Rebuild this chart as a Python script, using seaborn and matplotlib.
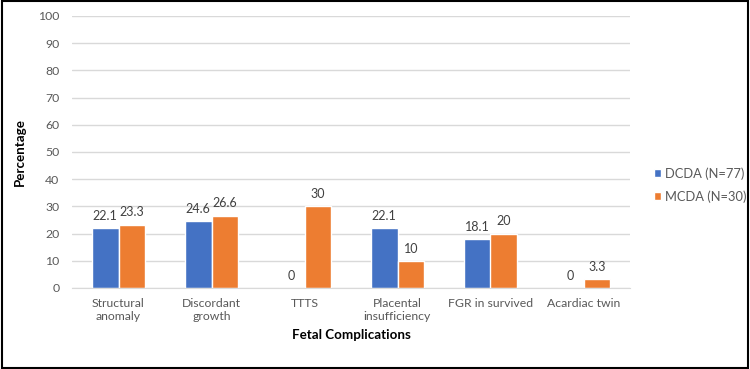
import numpy as np
import pandas as pd
import seaborn as sns
import matplotlib.pyplot as plt
from matplotlib.patches import Rectangle

categories = ["Structural\nanomaly", "Discordant\ngrowth", "TTTS",
              "Placental\ninsufficiency", "FGR in survived", "Acardiac twin"]
dcda = [22.1, 24.6, 0, 22.1, 18.1, 0]
mcda = [23.3, 26.6, 30, 10, 20, 3.3]
groups = ["DCDA (N=77)", "MCDA (N=30)"]
colors = ["#4472C4", "#ED7D31"]

df = pd.DataFrame({
    "category": categories * 2,
    "group": [groups[0]] * len(categories) + [groups[1]] * len(categories),
    "value": dcda + mcda,
})

sns.set_style("white")
plt.rcParams['font.family'] = ['Lato', 'DejaVu Sans']

fig = plt.figure(figsize=(7.5, 3.69), dpi=100)
ax = fig.add_axes([72 / 750, 81 / 369, 558 / 750, 272 / 369])

sns.barplot(data=df, x="category", y="value", hue="group", order=categories,
            hue_order=groups, palette=colors, width=0.58, gap=0,
            saturation=1, ax=ax, legend=True)

for cont in ax.containers:
    ax.bar_label(cont, labels=[f"{v:g}" for v in cont.datavalues],
                 padding=4.5, fontsize=9, color="#404040")

ax.set_ylim(0, 100)
ax.set_yticks(range(0, 101, 10))
ax.set_xlim(-0.5, len(categories) - 0.5)
ax.yaxis.grid(True, color="#D9D9D9", linewidth=1)
ax.set_axisbelow(True)
for s in ["top", "right", "left"]:
    ax.spines[s].set_visible(False)
ax.spines["bottom"].set_color("#D9D9D9")
ax.tick_params(axis="both", length=0, labelsize=8.8, labelcolor="#595959", pad=7)
ax.tick_params(axis="y", pad=9)
for t in ax.get_xticklabels():
    t.set_linespacing(1.3)
ax.set_xlabel("Fetal Complications", fontsize=9.6, fontweight="bold", color="black", labelpad=5)
ax.set_ylabel("Percentage", fontsize=9.6, fontweight="bold", color="black", labelpad=9)

handles, labels = ax.get_legend_handles_labels()
ax.get_legend().remove()
fig.legend(handles, labels, loc="center left", bbox_to_anchor=(642 / 750, 184 / 369),
           frameon=False, fontsize=9.3,
           handlelength=0.55, handleheight=0.55, handletextpad=0.3, labelspacing=0.8,
           labelcolor="#595959")

fig.add_artist(Rectangle((0.002, 0.004), 0.995, 0.992, transform=fig.transFigure,
                         fill=False, edgecolor="black", linewidth=1.5))

fig.savefig("out.png", dpi=100)
